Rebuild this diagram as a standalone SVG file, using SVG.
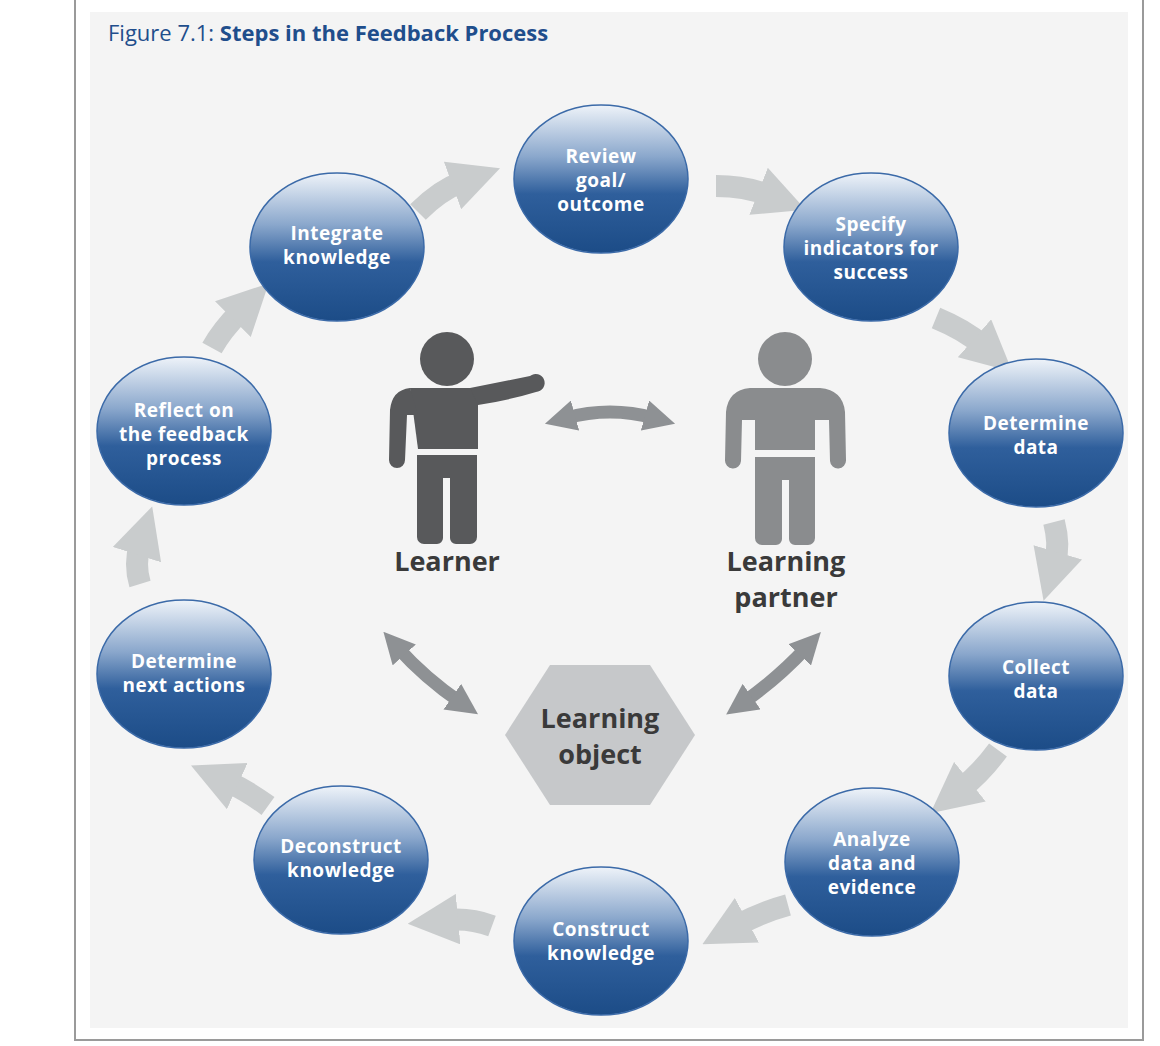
<svg xmlns="http://www.w3.org/2000/svg" width="1160" height="1046" viewBox="0 0 1160 1046">
<defs>
<linearGradient id="g" x1="0" y1="0" x2="0" y2="1">
<stop offset="0" stop-color="#eef3f9"/><stop offset="0.35" stop-color="#8aa7cc"/><stop offset="0.6" stop-color="#2f5f9c"/><stop offset="1" stop-color="#1c4c87"/>
</linearGradient>
<marker id="h" viewBox="0 0 10 10" refX="2" refY="5" markerWidth="2.3" markerHeight="2.3" orient="auto"><path d="M0,0 L10,5 L0,10 Z" fill="#c9cccd"/></marker>
<marker id="d" viewBox="0 0 10 10" refX="3" refY="5" markerWidth="2.4" markerHeight="2.4" orient="auto-start-reverse"><path d="M0,0 L10,5 L0,10 Z" fill="#8e9194"/></marker>
<style>
.n ellipse{fill:url(#g);stroke:#3b6aa8;stroke-width:1.5}
.n text{fill:#fff;font-family:"Open Sans","DejaVu Sans",sans-serif;font-weight:bold;font-size:19px;text-anchor:middle;letter-spacing:0.5px}
.a{fill:none;stroke:#c9cccd;stroke-width:22;marker-end:url(#h)}
.c{fill:none;stroke:#8e9194;stroke-width:13;marker-end:url(#d);marker-start:url(#d)}
.lb{font-family:"Open Sans","DejaVu Sans",sans-serif;font-weight:bold;font-size:27px;fill:#3a3a3a;text-anchor:middle}
</style>
</defs>
<rect width="1160" height="1046" fill="#fff"/>
<rect x="75" y="-5" width="1068" height="1045" fill="#fff" stroke="#9a9a9a" stroke-width="2"/>
<rect x="90" y="12" width="1038" height="1016" fill="#f4f4f4"/>
<text x="108" y="41" font-family="'Open Sans','DejaVu Sans',sans-serif" font-size="22" fill="#1f4e8c">Figure 7.1: <tspan font-weight="bold">Steps in the Feedback Process</tspan></text>
<g id="connectors">
<path class="a" d="M418,212 Q440,190 462,182"/>
<path class="a" d="M716,186 Q745,186 768,195"/>
<path class="a" d="M936,318 Q965,330 982,345"/>
<path class="a" d="M1054,522 Q1060,545 1055,562"/>
<path class="a" d="M998,750 Q982,772 962,788"/>
<path class="a" d="M788,905 Q762,912 738,925"/>
<path class="a" d="M492,926 Q470,918 448,920"/>
<path class="a" d="M268,806 Q246,790 228,782"/>
<path class="a" d="M140,584 Q134,564 140,545"/>
<path class="a" d="M212,348 Q222,330 240,312"/>
<path class="c" d="M566,418 Q610,406 654,418"/>
<path class="c" d="M398,648 Q425,678 460,702"/>
<path class="c" d="M806,648 Q778,678 744,702"/>
</g>
<g id="n1" class="n"><ellipse cx="601" cy="179" rx="87" ry="74"/><text x="601" y="163">Review</text><text x="601" y="187">goal/</text><text x="601" y="211">outcome</text></g>
<g id="n2" class="n"><ellipse cx="871" cy="247" rx="87" ry="74"/><text x="871" y="231">Specify</text><text x="871" y="255">indicators for</text><text x="871" y="279">success</text></g>
<g id="n3" class="n"><ellipse cx="1036" cy="433" rx="87" ry="74"/><text x="1036" y="430">Determine</text><text x="1036" y="454">data</text></g>
<g id="n4" class="n"><ellipse cx="1036" cy="676" rx="87" ry="74"/><text x="1036" y="674">Collect</text><text x="1036" y="698">data</text></g>
<g id="n5" class="n"><ellipse cx="872" cy="862" rx="87" ry="74"/><text x="872" y="846">Analyze</text><text x="872" y="870">data and</text><text x="872" y="894">evidence</text></g>
<g id="n6" class="n"><ellipse cx="601" cy="941" rx="87" ry="74"/><text x="601" y="936">Construct</text><text x="601" y="960">knowledge</text></g>
<g id="n7" class="n"><ellipse cx="341" cy="860" rx="87" ry="74"/><text x="341" y="853">Deconstruct</text><text x="341" y="877">knowledge</text></g>
<g id="n8" class="n"><ellipse cx="184" cy="674" rx="87" ry="74"/><text x="184" y="668">Determine</text><text x="184" y="692">next actions</text></g>
<g id="n9" class="n"><ellipse cx="184" cy="431" rx="87" ry="74"/><text x="184" y="417">Reflect on</text><text x="184" y="441">the feedback</text><text x="184" y="465">process</text></g>
<g id="n10" class="n"><ellipse cx="337" cy="247" rx="87" ry="74"/><text x="337" y="240">Integrate</text><text x="337" y="264">knowledge</text></g>
<g id="learner" fill="#58595b">
<circle cx="447" cy="359" r="27"/>
<path d="M410,388 H478 V449 H418 Z"/>
<path d="M410,388 Q392,390 390,410 L389,460 A8,8 0 0 0 405,460 L407,415 L418,415 Z"/>
<path d="M470,388 L530,376 A9,9 0 1 1 536,392 Q510,400 478,405 Z"/>
<path d="M417,455 H477 V537 A7,7 0 0 1 470,544 H456 A6,6 0 0 1 450,538 V478 H443 V538 A6,6 0 0 1 437,544 H424 A7,7 0 0 1 417,537 Z"/>
<text class="lb" x="447" y="571">Learner</text>
</g>
<g id="partner" fill="#8a8c8e">
<circle cx="785" cy="359" r="27"/>
<path d="M750,388 H820 Q843,390 845,412 L846,460 A8,8 0 0 1 830,461 L829,420 L815,420 V450 H755 V420 L742,420 L741,461 A8,8 0 0 1 725,460 L726,412 Q728,390 750,388 Z"/>
<path d="M755,457 H815 V538 A7,7 0 0 1 808,545 H795 A6,6 0 0 1 789,539 V480 H782 V539 A6,6 0 0 1 776,545 H762 A7,7 0 0 1 755,538 Z"/>
<text class="lb" x="786" y="571">Learning</text>
<text class="lb" x="786" y="607">partner</text>
</g>
<g id="object">
<polygon points="505,735 550,665 650,665 695,735 650,805 550,805" fill="#c6c8ca"/>
<text class="lb" x="600" y="728" font-size="28">Learning</text>
<text class="lb" x="600" y="764" font-size="28">object</text>
</g>
</svg>
